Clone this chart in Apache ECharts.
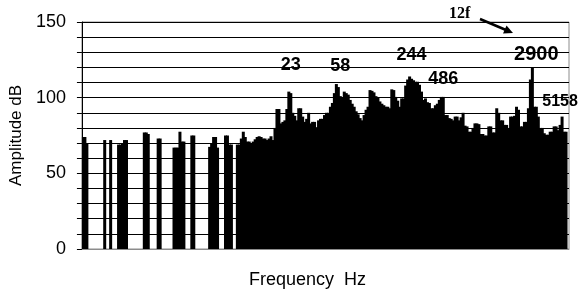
<!DOCTYPE html>
<html>
<head>
<meta charset="utf-8">
<script src="https://cdn.jsdelivr.net/npm/echarts@6/dist/echarts.min.js"></script>
<style>
  html, body { margin: 0; padding: 0; background: #fff; }
  #spectrum { width: 582px; height: 295px; }
</style>
</head>
<body>
<div id="spectrum"></div>
<script>
// amplitude (dB) per frequency bin, null = no component
var amplitude = [
    74, 74, 70, null, null, null, null, null, null, null,
    null, 72, null, null, 72, null, null, null, 69, 69,
    70, 72, 72, null, null, null, null, null, null, null,
    null, 77, 77, 76, null, null, null, null, 73, 73,
    null, null, null, null, null, null, 67, 67, 67, 77.5,
    71, 71, null, null, null, 75, 75, null, null, null,
    null, null, null, null, 67.5, 70, 74, 74, 67, null,
    null, null, 75, 75, 69, 69, null, null, 69, 69,
    73, 77.5, 74, 71, 71, 70, 71, 72.5, 74, 74.5,
    74, 73, 73, 72, 73, 74.5, 72, 80, 92.5, 92.5,
    83, 84, 85, 92.5, 104, 103, 90, 88, 85, 93,
    93, 87.5, 84, 86, 90, 83, 84, 84, 80.5, 85,
    86, 86, 88.5, 90, 90, 94, 96.5, 103, 109, 107,
    101, 100, 104, 103, 102, 98.5, 96, 94, 91, 89,
    86.5, 85, 88.5, 92, 94, 105, 104.5, 103.5, 101, 100,
    97.5, 96, 95, 94, 94, 93, 105.5, 105, 100.5, 98,
    94, 99.5, 99.5, 108, 112, 114, 112.5, 111.5, 110.5, 110.5,
    108.5, 104, 98.5, 99.5, 97, 96.5, 93, 93, 95, 96,
    98.5, 100.5, 100.5, 88.5, 88.5, 86.5, 86, 85, 87.5, 87.5,
    85, 87, 90, 81.5, 81, 77.5, 77.5, 80, 83, 83,
    82.5, 76, 76, 75, 75, 81, 81, 77, 77, 93,
    90, 85, 85, 82, 82, 80, 87.5, 87.5, 88, 94,
    92, 81, 81, 84, 84, 93, 112, 120, 94, 94,
    87.5, 80, 80, 76.5, 75.5, 75.5, 77.5, 77.5, 81, 81,
    78.5, 82, 87.5, 77.5, 77.5, null
];
var bins = amplitude.map(function (v, i) { return i; });

// peak labels (frequency in Hz) and the bin they sit over
var peakNames = ['23', '58', '244', '486', '2900', '5158'];
var peakBins  = [105, 130, 166, 182, 229, 241];
var peakLevel = [121.3, 121, 128, 112, 128.5, 97.5];

var yTicks = [0, 50, 100, 150];

var chart = echarts.init(document.getElementById('spectrum'));

var marks = peakNames.map(function (n, k) {
    return {
        coord: [peakBins[k], peakLevel[k]],
        value: n,
        label: { fontSize: n === '5158' ? 16 : (n === '2900' ? 20 : 18) }
    };
});

var option = {
    animation: false,
    backgroundColor: '#fff',
    grid: {
        left: 77, right: 13, top: 22, bottom: 46,
        show: true, borderColor: '#8c8c8c', borderWidth: 1
    },
    xAxis: {
        type: 'category',
        data: bins,
        axisLine: { lineStyle: { color: '#8c8c8c', width: 1 } },
        axisTick: { show: false },
        axisLabel: { show: false },
        name: 'Frequency  Hz',
        nameLocation: 'middle',
        nameGap: 22,
        nameTextStyle: {
            fontFamily: 'Liberation Sans', fontSize: 18, color: '#000',
            padding: [0, 36, 0, 0]
        }
    },
    yAxis: {
        type: 'value',
        min: 0, max: 150, interval: 10,
        axisLine: { show: true, lineStyle: { color: '#000', width: 1 } },
        axisTick: { show: true, length: 5, lineStyle: { color: '#000' } },
        axisLabel: {
            margin: 16,
            fontFamily: 'Liberation Sans', fontSize: 18, color: '#000',
            formatter: function (v) { return yTicks.indexOf(v) >= 0 ? String(v) : ''; }
        },
        splitLine: { show: true, lineStyle: { color: '#000', width: 1 } },
        name: 'Amplitude dB',
        nameLocation: 'middle',
        nameGap: 51,
        nameTextStyle: { fontFamily: 'Liberation Sans', fontSize: 17, color: '#000' }
    },
    series: [{
        type: 'bar',
        data: amplitude,
        barWidth: 3,
        barGap: '-100%',
        itemStyle: { color: '#000' },
        markPoint: {
            symbol: 'circle',
            symbolSize: 0,
            silent: true,
            label: {
                show: true,
                position: 'inside',
                formatter: '{c}',
                color: '#000',
                fontWeight: 'bold',
                fontFamily: 'Liberation Sans',
                fontSize: 18
            },
            data: marks
        }
    }],
    graphic: [
        {
            type: 'text', left: 449, top: 6,
            style: { text: '12f', font: 'bold 16px "Liberation Serif"', fill: '#000' }
        },
        {
            type: 'line',
            shape: { x1: 480, y1: 19, x2: 506, y2: 30 },
            style: { stroke: '#000', lineWidth: 2.5 }
        },
        {
            type: 'polygon',
            shape: { points: [[513, 33], [503, 33.4], [506.5, 25.5]] },
            style: { fill: '#000' }
        }
    ]
};
chart.setOption(option);

window.addEventListener('resize', function () {
    chart.resize();
});
</script>
</body>
</html>
